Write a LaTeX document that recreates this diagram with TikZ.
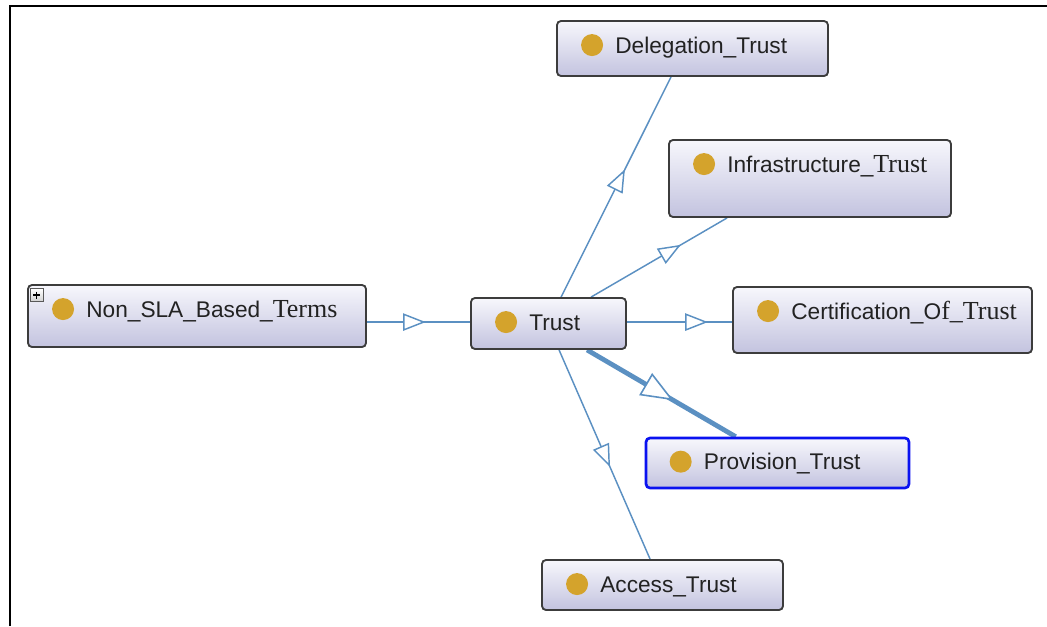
\documentclass[tikz,border=0pt]{standalone}
\usepackage{fontspec}
\setmainfont{Liberation Sans}
\newfontfamily\tnr{Liberation Serif}
\usetikzlibrary{arrows.meta,decorations.markings,calc}
\definecolor{edgeblue}{HTML}{5B90C2}
\definecolor{dotgold}{HTML}{D4A32C}
\definecolor{boxedge}{HTML}{3C3C3C}
\definecolor{boxtop}{HTML}{F7F7FC}
\definecolor{boxbot}{HTML}{C3C3DF}
\definecolor{selblue}{HTML}{0A12F0}
\definecolor{txt}{HTML}{222222}
\pgfdeclarelayer{bg}
\pgfsetlayers{bg,main}
\newcommand{\serifpart}[1]{{\tnr\fontsize{19.5}{20}\selectfont #1}}
\tikzset{
  cls/.style={draw=boxedge, line width=1.4pt, rounded corners=3pt, rectangle,
    top color=boxtop, bottom color=boxbot, inner sep=0pt},
  selcls/.style={cls, draw=selblue, line width=2pt},
  lbl/.style={anchor=base west, inner sep=0pt, text=txt, font=\fontsize{17}{20}\selectfont},
  dot/.style={circle, fill=dotgold, minimum size=16.5pt, inner sep=0pt},
  edge/.style={draw=edgeblue, line width=1.1pt, postaction={decorate},
    decoration={markings, mark=at position #1 with {\arrow{Triangle[length=17pt, width=13pt, fill=white, line width=1.1pt]}}}},
  edge/.default=0.56,
  thickedge/.style={draw=edgeblue, line width=3.6pt, postaction={decorate},
    decoration={markings, mark=at position #1 with {\arrow{Triangle[length=24pt, width=19pt, fill=white, line width=1.2pt]}}}},
  thickedge/.default=0.57,
  expander/.style={draw=gray!70!black, line width=0.6pt, top color=white, bottom color=gray!35, minimum size=9.5pt, inner sep=0pt}
}
\begin{document}
\begin{tikzpicture}[x=0.75pt,y=-0.75pt]
\useasboundingbox (0,0) rectangle (1047,626);
\draw[line width=1.6pt, black] (10,626) -- (10,6) -- (1047,6);

% class boxes
\node[cls, minimum width=203.25pt, minimum height=41.25pt] (deleg) at (692.5,48.5) {};
\node[cls, minimum width=211.5pt, minimum height=57.75pt] (infra) at (810,178.5) {};
\node[cls, minimum width=253.5pt, minimum height=46.5pt] (nonsla) at (197,316) {};
\node[cls, minimum width=116.25pt, minimum height=38.25pt] (trust) at (548.5,323.5) {};
\node[cls, minimum width=224.25pt, minimum height=49.5pt] (cert) at (882.5,320) {};
\node[selcls, minimum width=197.25pt, minimum height=37.5pt] (prov) at (777.5,463) {};
\node[cls, minimum width=180.75pt, minimum height=37.5pt] (access) at (662.5,585) {};

% dots
\node[dot] (deleg-dot) at ($(deleg.north west)+(36,25)$) {};
\node[dot] (infra-dot) at ($(infra.north west)+(36,25)$) {};
\node[dot] (nonsla-dot) at ($(nonsla.north west)+(36,25)$) {};
\node[dot] (trust-dot) at ($(trust.north west)+(36,25)$) {};
\node[dot] (cert-dot) at ($(cert.north west)+(36,25)$) {};
\node[dot] (prov-dot) at ($(prov.north west)+(36,25)$) {};
\node[dot] (access-dot) at ($(access.north west)+(36,25)$) {};

% labels
\node[lbl] (deleg-t) at ($(deleg.north west)+(59,33)$) {Delegation\_Trust};
\node[lbl] (infra-t) at ($(infra.north west)+(59,33)$) {Infrastructure\_\serifpart{Trust}};
\node[lbl] (nonsla-t) at ($(nonsla.north west)+(59,33)$) {Non\_SLA\_Based\_\serifpart{Terms}};
\node[lbl] (trust-t) at ($(trust.north west)+(59,33)$) {Trust};
\node[lbl] (cert-t) at ($(cert.north west)+(59,33)$) {Certification\_O\serifpart{f\_Trust}};
\node[lbl] (prov-t) at ($(prov.north west)+(59,33)$) {Provision\_Trust};
\node[lbl] (access-t) at ($(access.north west)+(59,33)$) {Access\_Trust};

% expander
\node[expander] (plus) at ($(nonsla.north west)+(9.5,11)$) {};
\draw[line width=0.9pt, black] ($(plus.center)+(-3.5,0)$) -- ($(plus.center)+(3.5,0)$)
      ($(plus.center)+(0,-3.5)$) -- ($(plus.center)+(0,3.5)$);

% connectors
\begin{pgfonlayer}{bg}
\path[edge=0.57] ($(nonsla.north east)+(0,38)$) -- ($(trust.north west)+(0,25)$);
\path[edge=0.58] ($(trust.north west)+(91,0)$) -- ($(deleg.south west)+(115,0)$);
\path[edge=0.66] ($(trust.north west)+(121,0)$) -- ($(infra.south west)+(59,0)$);
\path[edge=0.77] ($(trust.north east)+(0,25)$) -- ($(cert.north west)+(0,36)$);
\path[thickedge=0.58] ($(trust.south west)+(117,0)$) -- ($(prov.north west)+(91,0)$);
\path[edge=0.56] ($(trust.south west)+(89,0)$) -- ($(access.north west)+(109,0)$);
\end{pgfonlayer}
\end{tikzpicture}
\end{document}
